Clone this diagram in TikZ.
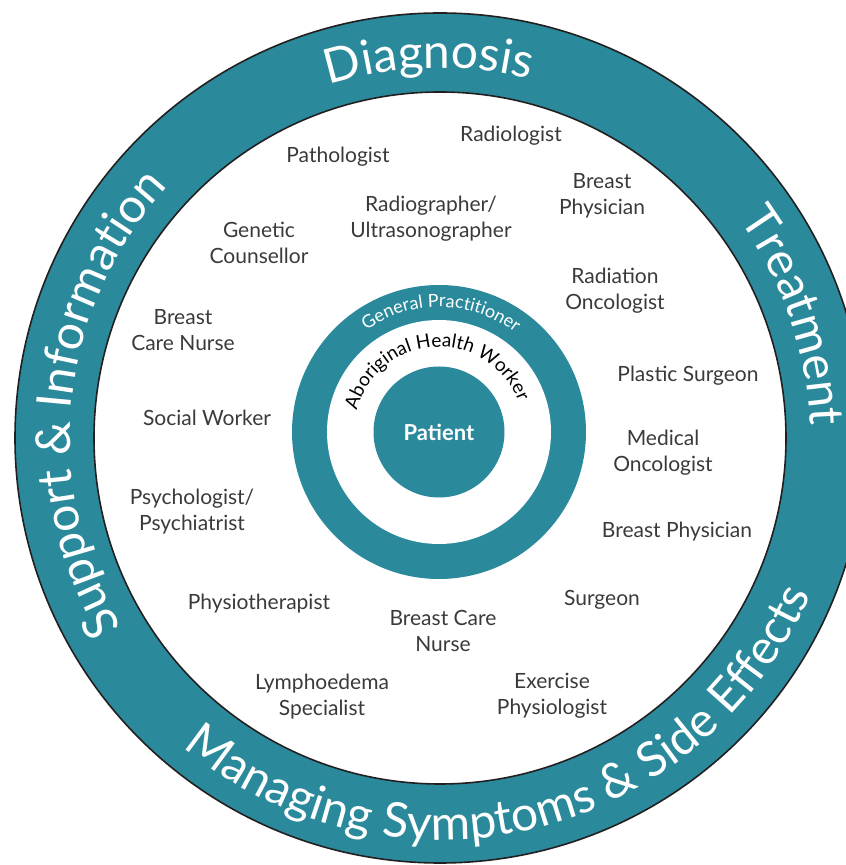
\documentclass[tikz,border=0pt]{standalone}
\usepackage{fontspec}
\setmainfont{Lato}
\usetikzlibrary{decorations.text}

\definecolor{careteal}{HTML}{2A8A9C}
\definecolor{labelgray}{HTML}{3A3A3A}
\definecolor{rimline}{HTML}{231F20}

\newcommand{\bandfont}{\fontsize{48}{48}\selectfont\color{white}}
\newcommand{\gpfont}{\fontsize{18}{18}\selectfont\color{white}}
\newcommand{\ahwfont}{\fontsize{19}{19}\selectfont\color{black}}

\begin{document}
\begin{tikzpicture}[x=1pt,y=1pt,
  role/.style={font=\fontsize{21}{26}\selectfont, text=labelgray,
    align=center, anchor=base, inner sep=0pt},
  arctext/.style={decorate, decoration={text along path,
    text align=center, text={#1}}},
  rim/.style={rimline, line width=1.6pt},
]
\useasboundingbox (0,0) rectangle (846,865);
\clip (0,0) rectangle (846,865);

% outer band with the four phases
\begin{scope}[shift={(440,427)}]
  \fill[careteal, even odd rule] (0,0) circle[radius=425pt] (0,0) circle[radius=346pt];
  \draw[rim] (0,0) circle[radius=425pt];
  \draw[rim] (0,0) circle[radius=346pt];
  \path[arctext={|\bandfont|Diagnosis}]
    (151.7:370pt) arc[start angle=151.7, end angle=31.7, radius=370pt];
  \path[arctext={|\bandfont|Treatment}]
    (79:370pt) arc[start angle=79, end angle=-41, radius=370pt];
  \path[arctext={|\bandfont|Support {\&} Information}]
    (234:370pt) arc[start angle=234, end angle=114, radius=370pt];
  \path[arctext={|\bandfont|Managing Symptoms {\&} Side Effects}]
    (203.7:402pt) arc[start angle=203.7, end angle=363.7, radius=402pt];
\end{scope}

% inner rings around the patient
\begin{scope}[shift={(439,433)}]
  \fill[careteal] (0,0) circle[radius=147pt];
  \fill[white] (0,0) circle[radius=112pt];
  \path[arctext={|\gpfont|General Practitioner}]
    (149:125pt) arc[start angle=149, end angle=29, radius=125pt];
  \path[arctext={|\ahwfont|Aboriginal Health Worker}]
    (183:85pt) arc[start angle=183, end angle=3, radius=85pt];
\end{scope}
\node[circle, fill=careteal, minimum size=131pt, inner sep=0pt,
  text=white, font=\fontsize{22}{22}\selectfont\bfseries] (patient) at (439,433) {Patient};

% care team (base anchor sits on the last line of each label)
\node[role] (radiologist)  at (511,723) {Radiologist};
\node[role] (pathologist)  at (338,702) {Pathologist};
\node[role] (bphysTop)     at (602,650) {Breast\\Physician};
\node[role] (radiographer) at (431,627) {Radiographer/\\Ultrasonographer};
\node[role] (genetic)      at (259,601) {Genetic\\Counsellor};
\node[role] (radonc)       at (615,555) {Radiation\\Oncologist};
\node[role] (bcnLeft)      at (183,514) {Breast\\Care Nurse};
\node[role] (plastic)      at (688,483) {Plastic Surgeon};
\node[role] (social)       at (207,439) {Social Worker};
\node[role] (medonc)       at (663,393) {Medical\\Oncologist};
\node[role] (psych)        at (192,334) {Psychologist/\\Psychiatrist};
\node[role] (bphysRight)   at (677,327) {Breast Physician};
\node[role] (surgeon)      at (602,259) {Surgeon};
\node[role] (physio)       at (259,255) {Physiotherapist};
\node[role] (bcnBottom)    at (443,213) {Breast Care\\Nurse};
\node[role] (lymph)        at (322,149) {Lymphoedema\\Specialist};
\node[role] (exphys)       at (552,150) {Exercise\\Physiologist};
\end{tikzpicture}
\end{document}
